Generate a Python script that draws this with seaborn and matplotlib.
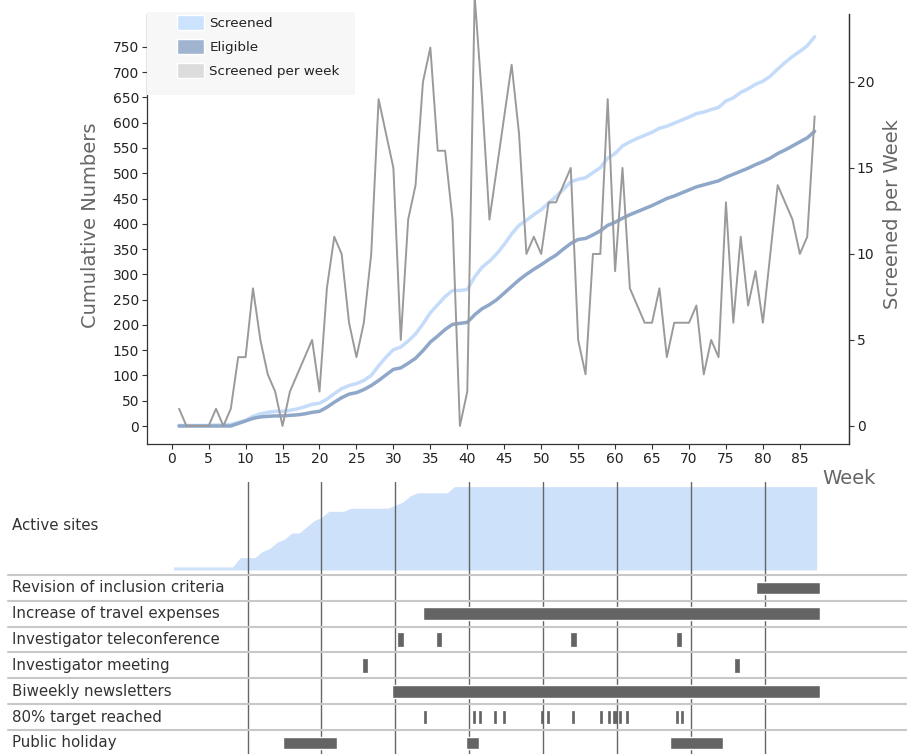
import matplotlib
matplotlib.use("Agg")
import matplotlib.pyplot as plt
import matplotlib.transforms as mtransforms
from matplotlib.patches import Patch, Rectangle
from matplotlib.lines import Line2D
import seaborn as sns
import numpy as np

# datos
weeks = list(range(1, 88))
screened_per_week = [1, 0, 0, 0, 0, 1, 0, 1, 4, 4,
                     8, 5, 3, 2, 0, 2, 3, 4, 5, 2,
                     8, 11, 10, 6, 4, 6, 10, 19, 17, 15,
                     5, 12, 14, 20, 22, 16, 16, 12, 0, 2,
                     25, 19, 12, 15, 18, 21, 17, 10, 11, 10,
                     13, 13, 14, 15, 5, 3, 10, 10, 19, 9,
                     15, 8, 7, 6, 6, 8, 4, 6, 6, 6,
                     7, 3, 5, 4, 13, 6, 11, 7, 9, 6,
                     10, 14, 13, 12, 10, 11, 18]
eligible_cum = [0, 0, 0, 0, 0, 0, 0, 0, 5, 10,
                15, 18, 19, 20, 20, 21, 22, 24, 27, 29,
                37, 47, 56, 63, 66, 72, 80, 90, 101, 112,
                115, 124, 134, 149, 166, 178, 191, 201, 203, 205,
                220, 232, 240, 250, 263, 276, 289, 300, 310, 319,
                329, 338, 350, 361, 369, 371, 378, 386, 397, 403,
                411, 418, 424, 430, 436, 443, 450, 455, 461, 467,
                473, 477, 481, 485, 492, 498, 504, 510, 517, 523,
                530, 539, 546, 554, 562, 570, 583]
screened_cum = np.cumsum(screened_per_week)

site_weeks = list(range(0, 88))
active_sites = [1, 1, 1, 1, 1, 1, 1, 1, 1, 4,
                4, 4, 6, 7, 9, 10, 12, 12, 14, 16,
                17, 19, 19, 19, 20, 20, 20, 20, 20, 20,
                21, 22, 24, 25, 25, 25, 25, 25, 27, 27,
                27, 27, 27, 27, 27, 27, 27, 27, 27, 27,
                27, 27, 27, 27, 27, 27, 27, 27, 27, 27,
                27, 27, 27, 27, 27, 27, 27, 27, 27, 27,
                27, 27, 27, 27, 27, 27, 27, 27, 27, 27,
                27, 27, 27, 27, 27, 27, 27, 27]

row_labels = ["Revision of inclusion criteria", "Increase of travel expenses",
              "Investigator teleconference", "Investigator meeting",
              "Biweekly newsletters", "80% target reached", "Public holiday"]
revision = [(78.8, 87.4)]
travel = [(33.8, 87.4)]
teleconference = [30.7, 35.9, 54.1, 68.4]
meeting = [25.9, 76.2]
newsletters = [(29.6, 87.4)]
target80 = [34.0, 40.6, 41.4, 43.5, 44.7, 49.9, 50.7, 54.0, 57.8, 58.9,
            59.6, 59.9, 60.4, 61.4, 68.1, 68.8]
holiday = [(14.8, 22.1), (39.5, 41.3), (67.1, 74.3)]
grid_weeks = [10, 20, 30, 40, 50, 60, 70, 80]

sns.set_theme(style="ticks")
plt.rcParams['font.family'] = ['DejaVu Sans']

W, H = 907, 754
fig = plt.figure(figsize=(W / 100, H / 100), dpi=100)


def caja(l, t, r, b):
    return [l / W, 1 - b / H, (r - l) / W, (b - t) / H]


c_scr = "#c4dcfa"
c_eli = "#8fa7c9"
c_week = "#9a9a9a"
c_bar = "#646464"
c_lab = "#666666"
xlim = (-3.38, 91.65)

# grafico principal
ax = fig.add_axes(caja(146.7, 14, 849, 444))
sns.lineplot(x=weeks, y=screened_cum, ax=ax, color=c_scr, linewidth=2.5)
sns.lineplot(x=weeks, y=eligible_cum, ax=ax, color=c_eli, linewidth=2.5)
ax.set_xlim(*xlim)
ax.set_ylim(-35.6, 815)
ax.set_xticks(range(0, 90, 5))
ax.set_yticks(range(0, 800, 50))
ax.spines['top'].set_visible(False)
for s in ['left', 'bottom', 'right']:
    ax.spines[s].set_color("#333333")
    ax.spines[s].set_linewidth(0.9)
ax.tick_params(labelsize=10, length=3.5, width=0.8, color="#333333", labelcolor="#222222", pad=2)
ax.set_xlabel("")
ax.set_ylabel("Cumulative Numbers", fontsize=14, color=c_lab)
ax.yaxis.set_label_coords(-0.066, 0.509)

ax2 = ax.twinx()
sns.lineplot(x=weeks, y=screened_per_week, ax=ax2, color=c_week, linewidth=1.4)
for ln in ax2.lines:
    ln.set_clip_on(False)
ax2.set_ylim(-1.05, 23.95)
ax2.set_yticks([0, 5, 10, 15, 20])
ax2.spines['top'].set_visible(False)
ax2.spines['left'].set_visible(False)
ax2.spines['bottom'].set_visible(False)
ax2.spines['right'].set_color("#333333")
ax2.spines['right'].set_linewidth(0.9)
ax2.tick_params(labelsize=10, length=3.5, width=0.8, color="#333333", labelcolor="#222222", pad=2)
ax2.set_ylabel("Screened per Week", fontsize=14, color=c_lab)
ax2.yaxis.set_label_coords(1.048, 0.535)

# leyenda con fondo gris
fondo = Rectangle((0, 0.8116), 0.2966, 0.1931, transform=ax2.transAxes,
                  facecolor="#f7f7f7", edgecolor="none", clip_on=False, zorder=5)
ax2.add_patch(fondo)
handles = [Patch(facecolor="#cce3fd"), Patch(facecolor="#a0b4cf"), Patch(facecolor="#dcdcdc")]
leg = ax2.legend(handles, ["Screened", "Eligible", "Screened per week"],
                 loc="upper left", bbox_to_anchor=(0.0427, 0.9977), borderaxespad=0,
                 borderpad=0, frameon=False, fontsize=9.7, handlelength=2.0,
                 handleheight=1.37, labelspacing=0.64, handletextpad=0.43)
leg.set_zorder(6)
for t in leg.get_texts():
    t.set_color("#222222")

fig.text(822 / W, 1 - 478 / H, "Week", fontsize=14, color=c_lab, ha="left", va="center")

# sitios activos
ax_s = fig.add_axes(caja(148.7, 482, 851, 575))
ax_s.fill_between(site_weeks, 0, active_sites, color="#cde1fb", lw=0)
ax_s.set_xlim(*xlim)
ax_s.set_ylim(-1.62, 28.5)
ax_s.set_axis_off()
for g in grid_weeks:
    ax_s.axvline(g, color="#666666", lw=1, zorder=3)
fig.text(12 / W, 1 - 526 / H, "Active sites", fontsize=10.8, color="#333333", va="center")

# eventos
ax_e = fig.add_axes(caja(148.7, 575, 851, 754))
ax_e.set_xlim(*xlim)
ax_e.set_ylim(6.93, 0)
ax_e.set_axis_off()
for g in grid_weeks:
    ax_e.axvline(g, color="#666666", lw=1, zorder=1)

alto = 0.49


def barras(fila, tramos):
    ax_e.broken_barh([(a, b - a) for a, b in tramos], (fila + 0.5 - alto / 2, alto),
                     facecolor=c_bar, zorder=2)


def marcas(fila, puntos, ancho):
    ax_e.broken_barh([(p - ancho / 2, ancho) for p in puntos], (fila + 0.5 - alto / 2, alto),
                     facecolor=c_bar, edgecolor=c_bar, linewidth=0.5, zorder=2)


barras(0, revision)
barras(1, travel)
marcas(2, teleconference, 0.6)
marcas(3, meeting, 0.6)
barras(4, newsletters)
marcas(5, target80, 0.26)
barras(6, holiday)

trans = mtransforms.blended_transform_factory(fig.transFigure, ax_e.transData)
for y in range(0, 7):
    fig.add_artist(Line2D([8 / W, 1], [y, y], transform=trans, color="#c8c8c8", lw=1.5))
for i, lab in enumerate(row_labels):
    ax_e.text(12 / W, i + 0.5, lab, transform=trans, fontsize=10.8, color="#333333", va="center")

fig.savefig("out.png", dpi=100)
